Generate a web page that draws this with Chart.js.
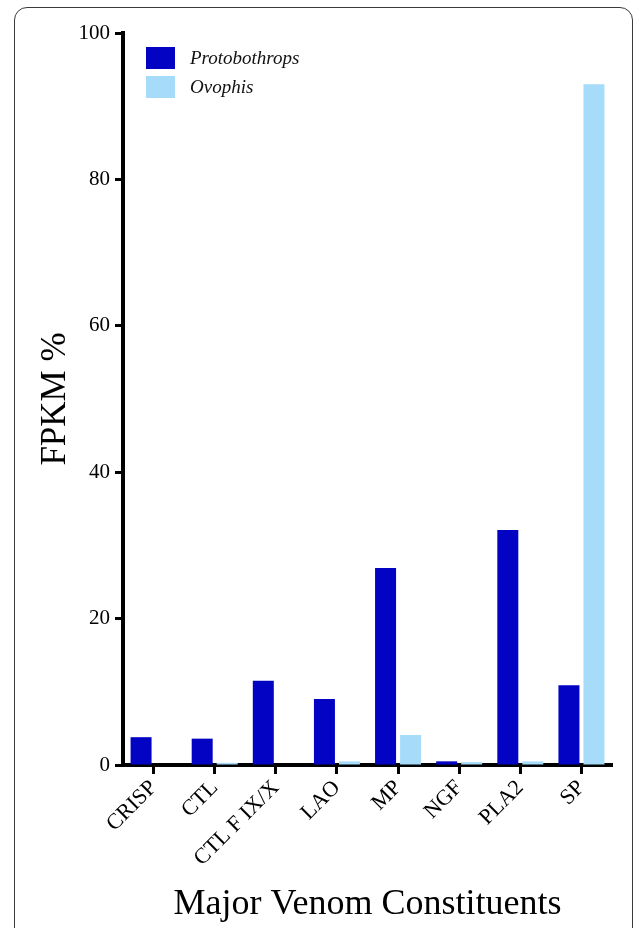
<!DOCTYPE html>
<html>
<head>
<meta charset="utf-8">
<script src="https://cdn.jsdelivr.net/npm/chart.js@4"></script>
<style>
  html, body { margin: 0; padding: 0; background: #fff; }
  #wrap { position: relative; width: 633px; height: 928px; overflow: hidden; }
  #frame {
    position: absolute; left: 14px; top: 7px; width: 619px; height: 960px;
    border: 1.5px solid #3a3a3a; border-radius: 13px; box-sizing: border-box;
  }
  #chart { position: absolute; left: 0; top: 0; }
</style>
</head>
<body>
<div id="wrap">
  <div id="frame"></div>
  <canvas id="chart" width="633" height="928"></canvas>
</div>
<script>
// categories and values (FPKM %)
const constituents = ['CRISP', 'CTL', 'CTL F IX/X', 'LAO', 'MP', 'NGF', 'PLA2', 'SP'];
const protobothrops = [3.8, 3.6, 11.5, 9.0, 26.9, 0.5, 32.1, 10.9];
const ovophis = [0.0, 0.3, 0.0, 0.5, 4.1, 0.4, 0.5, 93.0];
const yTicks = [0, 20, 40, 60, 80, 100];

const serif = '"Liberation Serif", "DejaVu Serif", serif';

// simple legend drawn inside the plot, top-left
const insideLegend = {
  id: 'insideLegend',
  afterDraw(chart) {
    const ctx = chart.ctx;
    ctx.save();
    chart.data.datasets.forEach((ds, i) => {
      const y = 47 + i * 29;
      ctx.fillStyle = ds.backgroundColor;
      ctx.fillRect(146, y, 29, 22);
      ctx.fillStyle = '#111';
      ctx.font = 'italic 19px ' + serif;
      ctx.textBaseline = 'middle';
      ctx.fillText(ds.label, 190, y + 12);
    });
    ctx.restore();
  }
};

new Chart(document.getElementById('chart'), {
  type: 'bar',
  data: {
    labels: constituents,
    datasets: [
      {
        label: 'Protobothrops',
        data: protobothrops,
        backgroundColor: '#0303c4',
        categoryPercentage: 0.818,
        barPercentage: 0.84
      },
      {
        label: 'Ovophis',
        data: ovophis,
        backgroundColor: '#a6dcfa',
        categoryPercentage: 0.818,
        barPercentage: 0.84
      }
    ]
  },
  options: {
    responsive: false,
    animation: false,
    layout: { padding: { top: 33, right: 21, bottom: 0, left: 0 } },
    plugins: {
      legend: { display: false },
      tooltip: { enabled: false }
    },
    scales: {
      x: {
        afterFit: s => { s.height = 163; },
        grid: { display: true, drawOnChartArea: false, drawTicks: true, tickLength: 9, tickWidth: 3, tickColor: '#000', offset: false },
        border: { display: true, color: '#000', width: 4 },
        ticks: {
          color: '#000',
          font: { family: serif, size: 22 },
          minRotation: 45,
          maxRotation: 45,
          padding: 1
        },
        title: {
          display: true,
          text: 'Major Venom Constituents',
          color: '#000',
          font: { family: serif, size: 36, lineHeight: 1 },
          padding: { top: 0, bottom: 5 }
        }
      },
      y: {
        min: 0,
        max: 100,
        afterFit: s => { s.width = 123; },
        afterBuildTicks: s => { s.ticks = yTicks.map(v => ({ value: v })); },
        grid: { display: true, drawOnChartArea: false, drawTicks: true, tickLength: 8, tickWidth: 3, tickColor: '#000' },
        border: { display: true, color: '#000', width: 4 },
        ticks: {
          color: '#000',
          font: { family: serif, size: 21 },
          padding: 5
        },
        title: {
          display: true,
          text: 'FPKM %',
          color: '#000',
          font: { family: serif, size: 35, lineHeight: 1 },
          padding: { top: 38, bottom: 0 }
        }
      }
    }
  },
  plugins: [insideLegend]
});
</script>
</body>
</html>
